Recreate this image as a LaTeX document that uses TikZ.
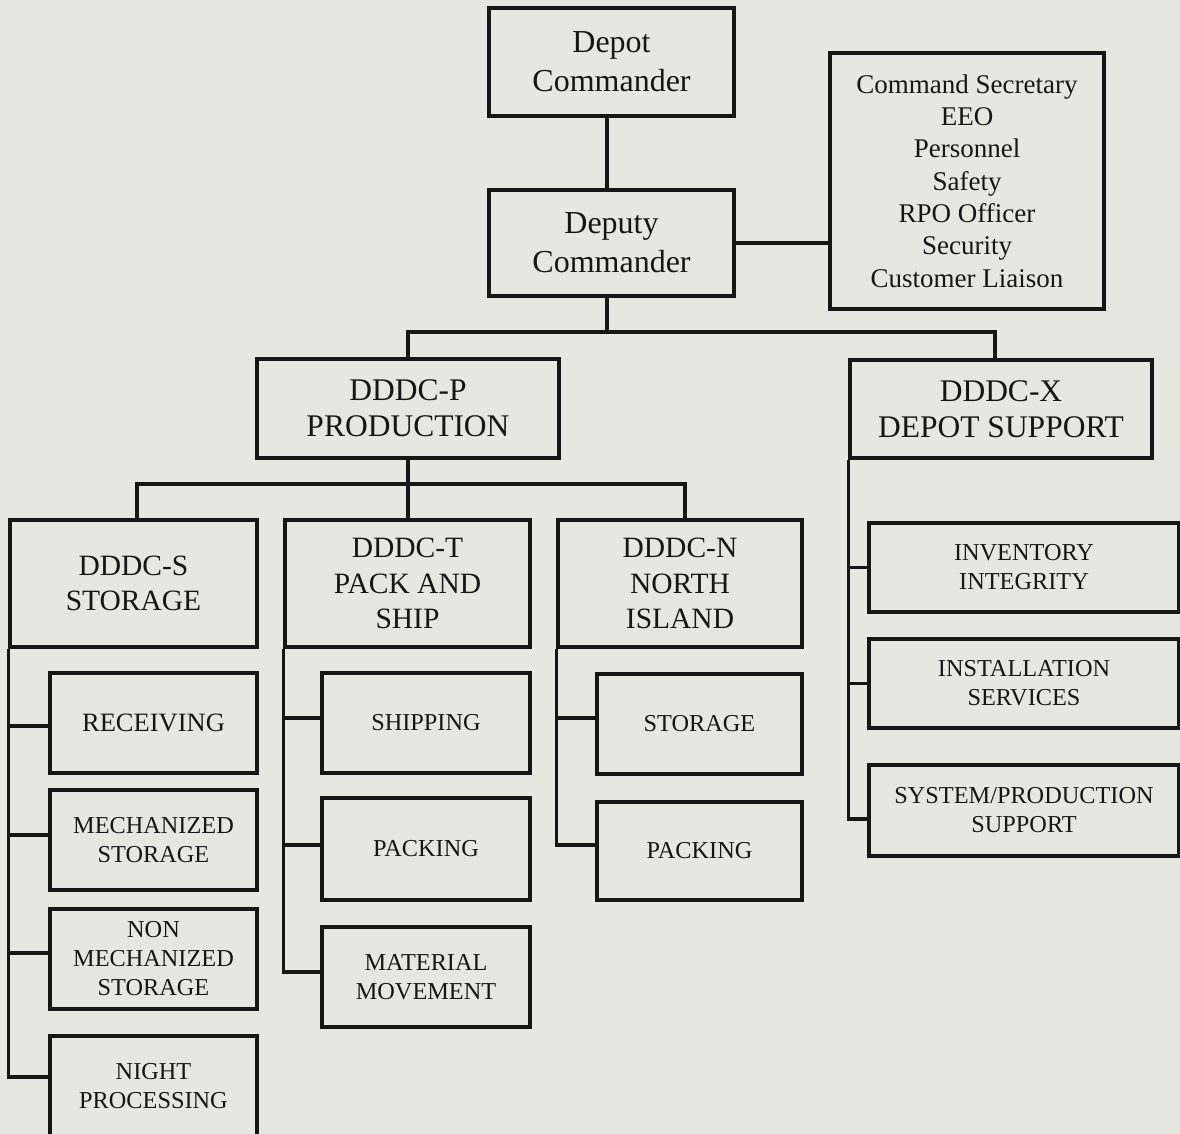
\documentclass[tikz,border=0pt]{standalone}
\usepackage{fontspec}
\setmainfont{Liberation Serif}
\definecolor{bg}{RGB}{231,231,226}
\definecolor{ink}{RGB}{22,22,22}
\begin{document}
\begin{tikzpicture}[x=1pt,y=-1pt,
  box/.style={draw=ink, line width=3.2pt, rectangle, inner sep=0pt, align=center, text=ink},
  conn/.style={draw=ink, line width=3.2pt, line join=miter},
  fcmd/.style={font=\fontsize{32}{39}\selectfont},
  fstaff/.style={font=\fontsize{27}{32.3}\selectfont},
  fdiv/.style={font=\fontsize{31.5}{36}\selectfont},
  fbr/.style={font=\fontsize{29.5}{35.5}\selectfont},
  fsub/.style={font=\fontsize{24.3}{29}\selectfont},
  frec/.style={font=\fontsize{26.5}{30}\selectfont}]
\fill[bg] (0,0) rectangle (1180,1134);
\useasboundingbox (0,0) rectangle (1180,1134);

% top level
\node[box, fcmd, minimum width=245pt, minimum height=108pt] (depot) at (611.5,62) {Depot\\Commander};
\node[box, fcmd, minimum width=245pt, minimum height=106pt] (deputy) at (611.5,243) {Deputy\\Commander};
\node[box, fstaff, minimum width=274pt, minimum height=256pt] (staff) at (967,181)
  {Command Secretary\\EEO\\Personnel\\Safety\\RPO Officer\\Security\\Customer Liaison};

% divisions
\node[box, fdiv, minimum width=302pt, minimum height=99pt] (P) at (408,408.5) {DDDC-P\\PRODUCTION};
\node[box, fdiv, minimum width=302pt, minimum height=98pt] (X) at (1001,409) {DDDC-X\\DEPOT SUPPORT};

% branches
\node[box, fbr, minimum width=247pt, minimum height=127pt] (S) at (133.5,583.5) {DDDC-S\\STORAGE};
\node[box, fbr, minimum width=245pt, minimum height=127pt] (T) at (407.5,583.5) {DDDC-T\\PACK AND\\SHIP};
\node[box, fbr, minimum width=244pt, minimum height=127pt] (N) at (680,583.5) {DDDC-N\\NORTH\\ISLAND};

% S children
\node[box, frec, minimum width=207pt, minimum height=100pt] (receiving) at (153.5,723) {RECEIVING};
\node[box, fsub, minimum width=207pt, minimum height=100pt] (mech) at (153.5,840) {MECHANIZED\\STORAGE};
\node[box, fsub, minimum width=207pt, minimum height=100pt] (nonmech) at (153.5,959) {NON\\MECHANIZED\\STORAGE};
\node[box, fsub, minimum width=207pt, minimum height=100pt] (night) at (153.5,1086) {NIGHT\\PROCESSING};

% T children
\node[box, fsub, minimum width=208pt, minimum height=100pt] (shipping) at (426,723) {SHIPPING};
\node[box, fsub, minimum width=208pt, minimum height=102pt] (packT) at (426,849) {PACKING};
\node[box, fsub, minimum width=208pt, minimum height=100pt] (material) at (426,977) {MATERIAL\\MOVEMENT};

% N children
\node[box, fsub, minimum width=205pt, minimum height=100pt] (storN) at (699.5,724) {STORAGE};
\node[box, fsub, minimum width=205pt, minimum height=98pt] (packN) at (699.5,851) {PACKING};

% X children
\node[box, fsub, minimum width=310pt, minimum height=89pt] (inventory) at (1024,567.5) {INVENTORY\\INTEGRITY};
\node[box, fsub, minimum width=310pt, minimum height=89pt] (install) at (1024,683.5) {INSTALLATION\\SERVICES};
\node[box, fsub, minimum width=310pt, minimum height=91pt] (system) at (1024,810.5) {SYSTEM/PRODUCTION\\SUPPORT};

% connectors
\draw[conn] ([xshift=-4.5pt]depot.south) -- ([xshift=-4.5pt]deputy.north);
\draw[conn] (deputy.east) -- (deputy.east -| staff.west);
\coordinate (bus1) at (607,332);
\draw[conn] ([xshift=-4.5pt]deputy.south) -- (bus1);
\draw[conn] (P.north) |- (bus1) -| ([xshift=-6pt]X.north);
\coordinate (bus2) at (408,484);
\draw[conn] (P.south) -- (P.south |- T.north);
\draw[conn] ([xshift=3.5pt]S.north) |- (bus2) -| ([xshift=5pt]N.north);

% S spine
\draw[conn] (S.south west) |- ([yshift=9pt]night.west);
\draw[conn] ([yshift=-3pt]receiving.west) -- ([yshift=-3pt]receiving.west -| S.west);
\draw[conn] ([yshift=5pt]mech.west) -- ([yshift=5pt]mech.west -| S.west);
\draw[conn] ([yshift=6pt]nonmech.west) -- ([yshift=6pt]nonmech.west -| S.west);

% T spine
\draw[conn] (T.south west) |- ([yshift=5pt]material.west);
\draw[conn] ([yshift=5pt]shipping.west) -- ([yshift=5pt]shipping.west -| T.west);
\draw[conn] ([yshift=4pt]packT.west) -- ([yshift=4pt]packT.west -| T.west);

% N spine
\draw[conn] (N.south west) |- ([yshift=6pt]packN.west);
\draw[conn] ([yshift=6pt]storN.west) -- ([yshift=6pt]storN.west -| N.west);

% X spine
\draw[conn] (X.south west) |- ([yshift=-8.5pt]system.west);
\draw[conn] (inventory.west) -- (inventory.west -| X.west);
\draw[conn] (install.west) -- (install.west -| X.west);
\end{tikzpicture}
\end{document}
